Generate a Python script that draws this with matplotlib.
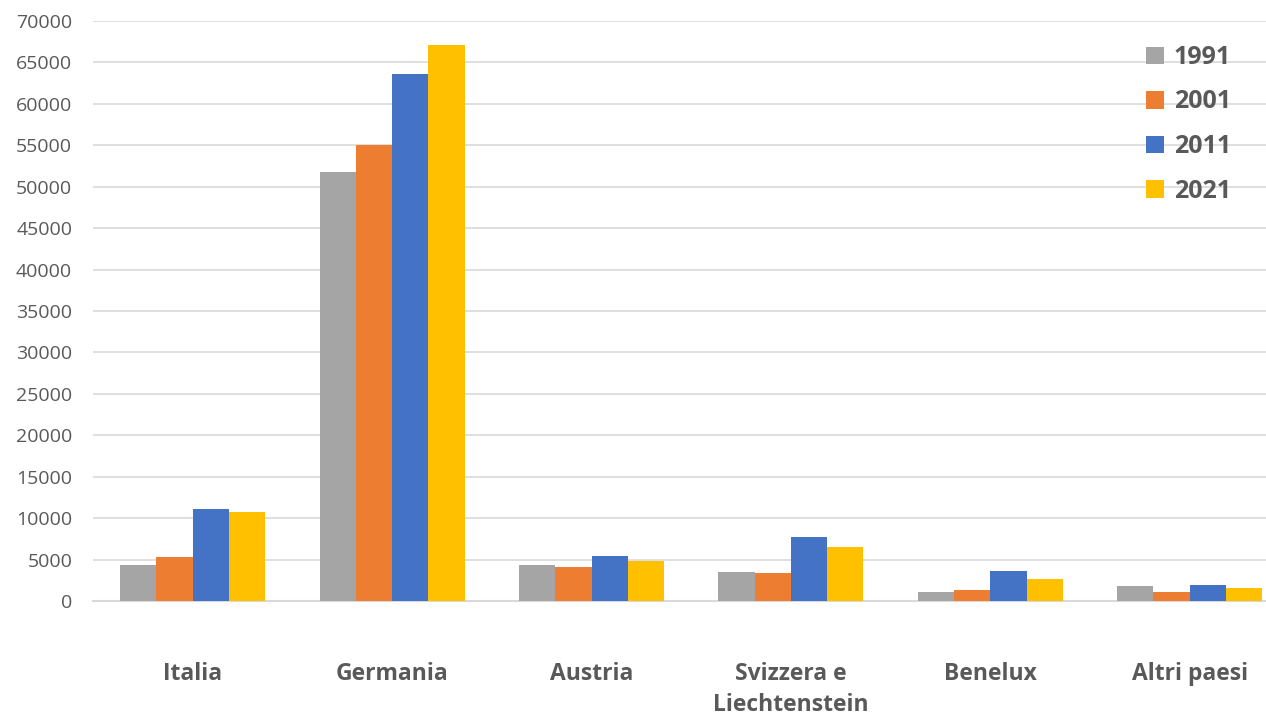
import numpy as np
import matplotlib
matplotlib.use('Agg')
import matplotlib.pyplot as plt

# dati
paesi = ["Italia", "Germania", "Austria", "Svizzera e\nLiechtenstein", "Benelux", "Altri paesi"]
anni = ["1991", "2001", "2011", "2021"]
v1991 = [4350, 51800, 4300, 3550, 1100, 1780]
v2001 = [5350, 55050, 4080, 3380, 1300, 1060]
v2011 = [11100, 63600, 5400, 7730, 3670, 1980]
v2021 = [10700, 67150, 4850, 6560, 2630, 1580]
colori = ["#A5A5A5", "#ED7D31", "#4472C4", "#FFC000"]

testo = "#595959"
plt.rcParams['font.family'] = ['Open Sans', 'DejaVu Sans']

fig = plt.figure(figsize=(12.66, 7.16), dpi=100)
ax = fig.add_axes([93/1266, 1-601/716, 1-93/1266, (601-21)/716])

x = np.arange(len(paesi))
w = 0.182
serie = [v1991, v2001, v2011, v2021]
for i, s in enumerate(serie):
    ax.bar(x + (i - 1.5) * w, s, w, color=colori[i], label=anni[i], zorder=3)

# l'area del grafico continua oltre il bordo destro
ax.set_xlim(-0.5, -0.5 + 1173/199.4)
ax.set_ylim(0, 70000)
ax.set_yticks(np.arange(0, 70001, 5000))
ax.grid(axis='y', color='#d9d9d9', linewidth=1.2, zorder=0)
ax.tick_params(axis='y', length=0, labelsize=14, labelcolor=testo, pad=15)
ax.tick_params(axis='x', length=0, pad=44)
ax.set_xticks(x)
ax.set_xticklabels(paesi, fontsize=16.5, fontweight='bold', color=testo, linespacing=1.4, va='top')
for sp in ['top', 'right', 'left']:
    ax.spines[sp].set_visible(False)
ax.spines['bottom'].set_color('#d9d9d9')
ax.spines['bottom'].set_linewidth(1.5)

leg = fig.legend(loc='upper right', bbox_to_anchor=(1231/1266, 1-45/716), frameon=False,
                 prop={'size': 18, 'weight': 'bold'}, handlelength=0.7, handleheight=0.7,
                 handletextpad=0.4, labelspacing=0.78, borderaxespad=0, borderpad=0)
for t in leg.get_texts():
    t.set_color(testo)

plt.savefig('out.png', dpi=100, facecolor='white')
